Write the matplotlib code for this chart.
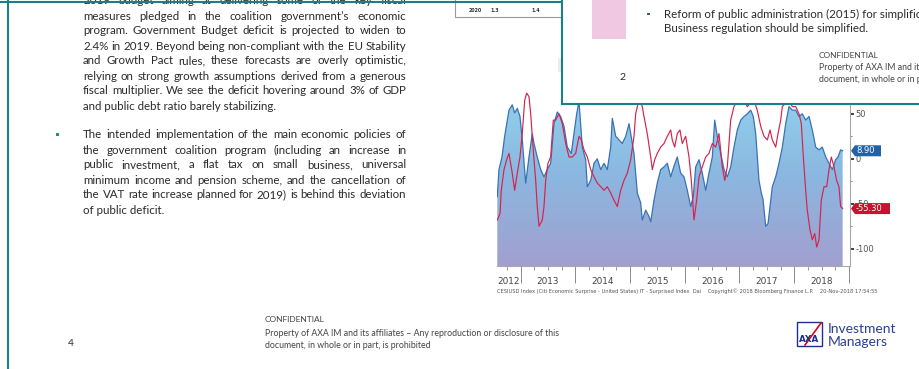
import numpy as np
import matplotlib
matplotlib.use("Agg")
import matplotlib.pyplot as plt
from matplotlib.colors import LinearSegmentedColormap
from matplotlib.patches import Rectangle, Polygon
from matplotlib.ticker import MultipleLocator

# ---------------------------------------------------------------- data
# Citi Economic Surprise Index, United States (area) - decimal years / index
us_dates = [2012.572, 2012.603, 2012.658, 2012.707, 2012.786, 2012.846, 2012.890, 2012.938,
            2012.987, 2013.029, 2013.091, 2013.152, 2013.212, 2013.243, 2013.303, 2013.366,
            2013.426, 2013.486, 2013.548, 2013.609, 2013.669, 2013.731, 2013.792, 2013.852,
            2013.925, 2013.974, 2014.024, 2014.066, 2014.126, 2014.188, 2014.218, 2014.280,
            2014.340, 2014.400, 2014.463, 2014.523, 2014.583, 2014.645, 2014.675, 2014.737,
            2014.797, 2014.857, 2014.920, 2014.980, 2015.011, 2015.071, 2015.132, 2015.194,
            2015.223, 2015.285, 2015.345, 2015.377, 2015.437, 2015.497, 2015.559, 2015.620,
            2015.680, 2015.742, 2015.803, 2015.863, 2015.925, 2015.985, 2016.046, 2016.108,
            2016.155, 2016.199, 2016.260, 2016.320, 2016.382, 2016.442, 2016.503, 2016.547,
            2016.594, 2016.656, 2016.717, 2016.777, 2016.839, 2016.899, 2016.960, 2017.022,
            2017.082, 2017.143, 2017.205, 2017.252, 2017.296, 2017.356, 2017.399, 2017.430,
            2017.479, 2017.521, 2017.558, 2017.600, 2017.662, 2017.722, 2017.783, 2017.845,
            2017.905, 2017.965, 2018.027, 2018.088, 2018.148, 2018.210, 2018.271, 2018.331,
            2018.393, 2018.453, 2018.514, 2018.576, 2018.636, 2018.697, 2018.757, 2018.800,
            2018.849, 2018.886]
us_values = [-42, -12, 2, 25, 54, 60, 51, 56,
             47, 21, -27, 2, 28, 17, 2, -12,
             -20, -12, -5, 39, 52, 47, 36, 13,
             6, 28, 50, 64, 13, -1, -31, -24,
             -5, 0, -12, -5, -12, 13, 45, 25,
             21, 17, 25, 39, 28, 6, -38, -49,
             -68, -57, -64, -70, -46, -27, -12, -9,
             -5, -20, -8, 2, -16, -20, -35, -53,
             -42, -9, -1, -16, -35, -16, 2, 43,
             25, 6, -12, -20, -9, 13, 32, 43,
             47, 50, 54, 47, 28, -24, -38, -45,
             -75, -72, -53, -31, -20, -5, 13, 39,
             58, 54, 54, 47, 50, 43, 47, 32,
             13, 10, 13, 2, -5, -12, -1, 2,
             10, 8.90]

# Citi Economic Surprise Index, Italy (line)
it_dates = [2012.572, 2012.622, 2012.645, 2012.695, 2012.744, 2012.786, 2012.846, 2012.890,
            2012.938, 2012.987, 2013.029, 2013.073, 2013.110, 2013.152, 2013.183, 2013.212,
            2013.243, 2013.274, 2013.303, 2013.335, 2013.395, 2013.426, 2013.457, 2013.499,
            2013.548, 2013.596, 2013.640, 2013.700, 2013.761, 2013.823, 2013.883, 2013.943,
            2014.005, 2014.066, 2014.108, 2014.157, 2014.218, 2014.280, 2014.340, 2014.400,
            2014.463, 2014.523, 2014.583, 2014.645, 2014.706, 2014.766, 2014.828, 2014.888,
            2014.949, 2015.011, 2015.071, 2015.102, 2015.163, 2015.223, 2015.254, 2015.314,
            2015.377, 2015.406, 2015.450, 2015.497, 2015.559, 2015.620, 2015.680, 2015.742,
            2015.771, 2015.815, 2015.863, 2015.912, 2015.954, 2016.016, 2016.077, 2016.119,
            2016.168, 2016.217, 2016.260, 2016.320, 2016.382, 2016.442, 2016.503, 2016.565,
            2016.625, 2016.686, 2016.730, 2016.777, 2016.839, 2016.899, 2016.960, 2017.022,
            2017.082, 2017.143, 2017.205, 2017.265, 2017.325, 2017.388, 2017.448, 2017.509,
            2017.558, 2017.600, 2017.662, 2017.704, 2017.753, 2017.783, 2017.845, 2017.905,
            2017.965, 2018.027, 2018.088, 2018.130, 2018.167, 2018.210, 2018.239, 2018.289,
            2018.331, 2018.375, 2018.411, 2018.453, 2018.495, 2018.545, 2018.594, 2018.636,
            2018.678, 2018.727, 2018.776, 2018.818, 2018.849, 2018.886]
it_values = [-68, -61, -35, -12, -1, 6, -16, -35,
             -16, 2, 28, 65, 73, 69, 50, 25,
             -1, -24, -53, -75, -68, -53, -24, -5,
             2, 43, 43, 50, 39, 17, 2, 2,
             6, 25, 21, 10, 2, -12, -20, -27,
             -31, -35, -31, -38, -46, -53, -35, -24,
             -16, -1, 25, 50, 66, 58, 47, 28,
             2, -12, -1, 6, 13, 17, 25, 32,
             21, 13, 28, 32, 17, 25, 2, -24,
             -68, -46, -20, -9, 2, 6, 17, 13,
             28, -9, -24, -9, 43, 58, 65, 62,
             65, 58, 62, 65, 54, 36, 25, 21,
             32, 21, 13, 28, 43, 58, 62, 65,
             58, 58, 50, 39, 2, -35, -57, -79,
             -90, -83, -98, -90, -46, -31, -31, -12,
             2, -9, -24, -31, -53, -55.30]

year_labels = ['2012', '2013', '2014', '2015', '2016', '2017', '2018']
value_ticks = [50, 0, -50, -100]
value_tick_labels = ['50', '0', '-50', '-100']
last_us_label = '8.90'
last_it_label = '-55.30'

para_one = [
    "2019 budget aiming at delivering some of the key fiscal",
    "measures pledged in the coalition government\u2019s economic",
    "program. Government Budget deficit is projected to widen to",
    "2.4% in 2019. Beyond being non-compliant with the EU Stability",
    "and Growth Pact rules, these forecasts are overly optimistic,",
    "relying on strong growth assumptions derived from a generous",
    "fiscal multiplier. We see the deficit hovering around 3% of GDP",
    "and public debt ratio barely stabilizing.",
]
para_two = [
    "The intended implementation of the main economic policies of",
    "the government coalition program (including an increase in",
    "public investment, a flat tax on small business, universal",
    "minimum income and pension scheme, and the cancellation of",
    "the VAT rate increase planned for 2019) is behind this deviation",
    "of public deficit.",
]
bloomberg_note = ("CESIUSD Index (Citi Economic Surprise - United States) IT - Surprised Index  Dai"
                  "    Copyright\u00a9 2018 Bloomberg Finance L.P.    20-Nov-2018 17:54:55")

# ---------------------------------------------------------------- canvas
W, H = 920, 369
TEAL = '#17808a'
INK = '#2a2a2a'
GREY = '#444444'
BODY = 'Lato'
BODY_SIZE = 8.3
SMALL_SIZE = 6.3

fig = plt.figure(figsize=(W / 100, H / 100), dpi=100)
fig.patch.set_facecolor('white')
renderer = fig.canvas.get_renderer()


def sheet(z):
    ax = fig.add_axes([0, 0, 1, 1], zorder=z)
    ax.set_xlim(0, W)
    ax.set_ylim(H, 0)
    ax.axis('off')
    ax.patch.set_visible(False)
    return ax


page = sheet(0)


def paragraph(ax, lines, x0, x1, y0, step, ragged_last=True):
    """Justified block of text: words spread between x0 and x1."""
    for i, line in enumerate(lines):
        y = y0 + i * step
        if i == len(lines) - 1 and ragged_last:
            ax.text(x0, y, line, ha='left', va='center', fontsize=BODY_SIZE,
                    family=BODY, color=INK)
            continue
        words = line.split()
        arts = [ax.text(x0, y, w, ha='left', va='center', fontsize=BODY_SIZE,
                        family=BODY, color=INK) for w in words]
        widths = [a.get_window_extent(renderer).width for a in arts]
        gap = (x1 - x0 - sum(widths)) / max(len(words) - 1, 1)
        x = x0
        for a, w in zip(arts, widths):
            a.set_x(x)
            x += w + gap


paragraph(page, para_one, 83, 406, 1, 15)
paragraph(page, para_two, 83, 406, 135, 15)
page.add_patch(Rectangle((56.5, 132.5), 3, 3, fc='#1f8f8a', ec='none'))

# footer of the page
page.text(68, 343, '4', fontsize=7.5, family=BODY, color=INK, ha='left', va='center')
page.text(265, 320, 'CONFIDENTIAL', fontsize=6.0, family=BODY, color=GREY, ha='left', va='center')
page.text(265, 333, 'Property of AXA IM and its affiliates \u2013 Any reproduction or disclosure of this',
          fontsize=SMALL_SIZE, family=BODY, color=GREY, ha='left', va='center')
page.text(265, 345, 'document, in whole or in part, is prohibited',
          fontsize=SMALL_SIZE, family=BODY, color=GREY, ha='left', va='center')

# AXA logo
page.add_patch(Rectangle((797, 322), 25, 24, fc='white', ec='#1d2f8f', lw=1.0))
page.text(809.5, 339, 'AXA', fontsize=6.3, fontweight='bold', family='DejaVu Sans',
          color='#1d2f8f', ha='center', va='center')
page.plot([805, 821], [345, 323], color='#e1001a', lw=1.2)
page.text(828, 329, 'Investment', fontsize=10, family=BODY, color='#2b3f96', ha='left', va='center')
page.text(828, 342, 'Managers', fontsize=10, family=BODY, color='#2b3f96', ha='left', va='center')

# ---------------------------------------------------------------- chart
cx0, cx1, cy0, cy1 = 497, 850, 40, 266
chart = fig.add_axes([cx0 / W, 1 - cy1 / H, (cx1 - cx0) / W, (cy1 - cy0) / H], zorder=1)
chart.patch.set_visible(False)
X0, X1 = 2012.567, 2019.02
Y0, Y1 = -119.1, 132.0

area_cmap = LinearSegmentedColormap.from_list('area', ['#a29fcf', '#8bb7e0', '#92d3ee'])
grad = np.linspace(0, 1, 256).reshape(-1, 1)
img = chart.imshow(grad, extent=(X0, X1, Y0, 80), origin='lower', aspect='auto',
                   cmap=area_cmap, interpolation='bilinear', zorder=1)
area = chart.fill_between(us_dates, us_values, Y0, facecolor='none', edgecolor='none')
img.set_clip_path(area.get_paths()[0], chart.transData)
chart.plot(us_dates, us_values, color='#3a72b2', lw=0.9, zorder=2)
chart.plot(it_dates, it_values, color='#d3244d', lw=0.85, zorder=3)
chart.set_xlim(X0, X1)
chart.set_ylim(Y0, Y1)

for s in ('top', 'left'):
    chart.spines[s].set_visible(False)
for s in ('right', 'bottom'):
    chart.spines[s].set_color('#a8a8a8')
    chart.spines[s].set_linewidth(0.8)

chart.yaxis.tick_right()
chart.set_yticks(value_ticks)
chart.set_yticklabels(value_tick_labels)
chart.yaxis.set_minor_locator(MultipleLocator(25))
chart.tick_params(axis='y', which='major', direction='out', length=3, width=1.3,
                  color='#333333', labelsize=6.0, labelcolor='#555555', pad=1)
chart.tick_params(axis='y', which='minor', direction='out', length=1.5, width=0.6, color='#777777')
chart.set_xticks(range(2013, 2020))
chart.xaxis.set_minor_locator(MultipleLocator(0.25))
chart.tick_params(axis='x', which='major', direction='out', length=12, width=0.7,
                  color='#8a8a8a', labelbottom=False)
chart.tick_params(axis='x', which='minor', direction='out', length=3, width=0.6, color='#8a8a8a')

for lbl in year_labels:
    y = int(lbl)
    pos = (max(y, X0) + min(y + 1, X1)) / 2
    chart.annotate(lbl, xy=(pos, 0), xycoords=('data', 'axes fraction'), xytext=(0, -16),
                   textcoords='offset pixels', ha='center', va='center', fontsize=6.4,
                   color='#444444', family='DejaVu Sans', annotation_clip=False)
chart.annotate(bloomberg_note, xy=(0, 0), xycoords='axes fraction', xytext=(0, -25),
               textcoords='offset pixels', ha='left', va='center', fontsize=3.7,
               color='#555555', family='DejaVu Sans', annotation_clip=False)

# ---------------------------------------------------------------- front layer
front = sheet(2)


def value_tag(value, text, color, width):
    yd = chart.transData.transform((X1, value))[1]
    xd = chart.transAxes.transform((1, 0))[0]
    y = H - yd
    x = xd + 1
    front.add_patch(Polygon([(x, y), (x + 4, y - 5.5), (x + width, y - 5.5),
                             (x + width, y + 5.5), (x + 4, y + 5.5)], closed=True,
                            fc=color, ec='none', zorder=5))
    front.text(x + 5, y, text, color='white', fontsize=6.0, family='DejaVu Sans',
               ha='left', va='center', zorder=6)


value_tag(us_values[-1], last_us_label, '#2161a8', 30)
value_tag(it_values[-1], last_it_label, '#c9122f', 39)

# window frames
front.plot([0, 845], [2, 2], color=TEAL, lw=1.5, solid_capstyle='butt', zorder=3)
front.plot([844, 844], [0, 4], color=TEAL, lw=1.5, zorder=3)
front.plot([8.5, 8.5], [0, H], color=TEAL, lw=1.5, zorder=3)

# table edge
front.plot([455, 455, 562], [0, 17, 17], color='#9a9a9a', lw=0.8, zorder=2)
for x, s in [(475, '2020'), (495, '1.3'), (536, '1.4')]:
    front.text(x, 11, s, fontsize=3.4, fontweight='bold', family='DejaVu Sans',
               color='#333333', ha='center', va='center', zorder=2)
front.add_patch(Rectangle((558, 58), 5, 14, fc='#ececec', ec='none', zorder=2))

# overlapping page window
front.add_patch(Rectangle((562, -10), 380, 114, fc='white', ec=TEAL, lw=1.5, zorder=7))
front.add_patch(Rectangle((592, -5), 34, 44, fc='#f0c8e2', ec='none', zorder=8))
front.add_patch(Rectangle((647.5, 12.5), 2.5, 2.5, fc='#2f6670', ec='none', zorder=8))
front.text(664, 14, 'Reform of public administration (2015) for simplification',
           fontsize=BODY_SIZE, family=BODY, color=INK, ha='left', va='center', zorder=8)
front.text(664, 28, 'Business regulation should be simplified.',
           fontsize=BODY_SIZE, family=BODY, color=INK, ha='left', va='center', zorder=8)
front.text(622, 77, '2', fontsize=7.5, family=BODY, color=INK, ha='center', va='center', zorder=8)
front.text(819, 56, 'CONFIDENTIAL', fontsize=6.0, family=BODY, color=GREY, ha='left', va='center', zorder=8)
front.text(819, 67, 'Property of AXA IM and its affiliates', fontsize=SMALL_SIZE, family=BODY,
           color=GREY, ha='left', va='center', zorder=8)
front.text(819, 79, 'document, in whole or in part, is prohibited', fontsize=SMALL_SIZE, family=BODY,
           color=GREY, ha='left', va='center', zorder=8)

fig.savefig('out.png', dpi=100, facecolor='white')
